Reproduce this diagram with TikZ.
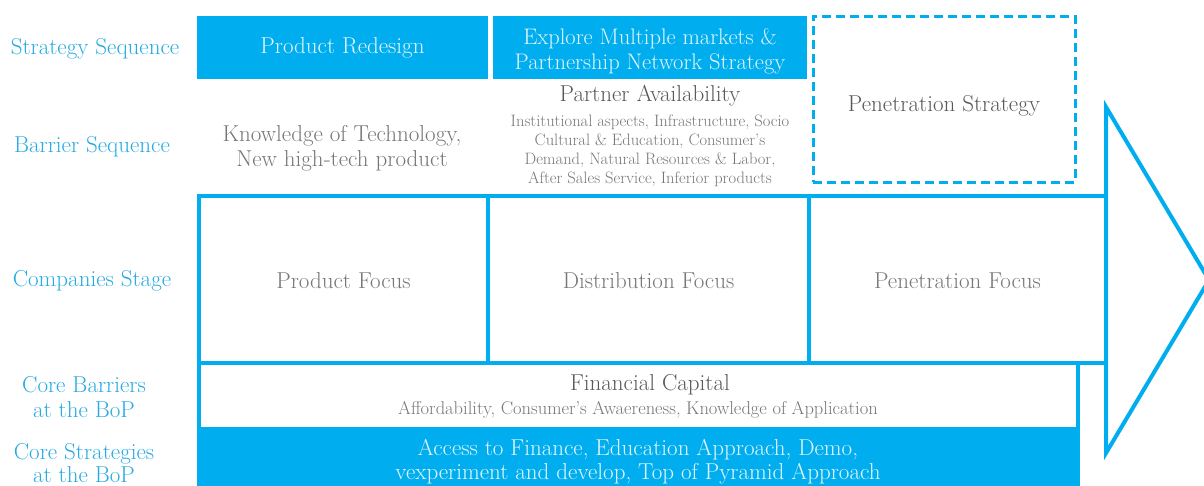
\documentclass[tikz,border=0pt]{standalone}
\begin{document}
\begin{tikzpicture}[x=1pt,y=-1pt,
  font=\fontsize{23}{25}\selectfont,
  lbl/.style={text=labelblue, align=center, inner sep=0pt},
  fillbox/.style={fill=bluefill, draw=none, text=boxtext, align=center, inner sep=0pt},
  plain/.style={text=textgray, align=center, inner sep=0pt},
  heading/.style={text=darkgray, align=center, inner sep=0pt},
  smalltxt/.style={text=textgray, align=center, inner sep=0pt, font=\fontsize{16.5}{19}\selectfont},
  frame/.style={draw=bluefill, line width=4pt},
]
\definecolor{bluefill}{RGB}{0,174,239}
\definecolor{labelblue}{RGB}{38,170,225}
\definecolor{boxtext}{RGB}{228,246,253}
\definecolor{textgray}{RGB}{118,118,118}
\definecolor{darkgray}{RGB}{88,88,88}

\useasboundingbox (0,0) rectangle (1204,485);
\clip (0,0) rectangle (1204,485);

% row labels
\node[lbl] (l1) at (95,49) {Strategy Sequence};
\node[lbl] (l2) at (92,147) {Barrier Sequence};
\node[lbl] (l3) at (92,281) {Companies Stage};
\node[lbl] (l4) at (84,397) {Core Barriers\\at the BoP};
\node[lbl, font=\fontsize{23}{23}\selectfont] (l5) at (84,463) {Core Strategies\\at the BoP};

% strategy sequence
\node[fillbox, minimum width=291pt, minimum height=63pt] (redesign) at (342.5,47.5) {Product Redesign};
\node[fillbox, minimum width=314pt, minimum height=63pt] (explore) at (650,47.5) {};
\node[text=boxtext, align=center, inner sep=0pt, font=\fontsize{22.5}{25}\selectfont] (exploretxt) at (650,51)
  {Explore Multiple markets \&\\Partnership Network Strategy};
\node[draw=bluefill, line width=3pt, dash pattern=on 9pt off 5pt, minimum width=262pt, minimum height=166pt,
  inner sep=0pt] (penstrat) at (944,99) {};
\node[heading] (penstrattxt) at (944,106) {Penetration Strategy};

% barrier sequence
\node[plain] (knowledge) at (342,148.5) {Knowledge of Technology,\\New high-tech product};
\node[heading] (partner) at (650,96) {Partner Availability};
\node[smalltxt] (partnerdet) at (650,151)
  {Institutional aspects, Infrastructure, Socio\\Cultural \& Education, Consumer's\\Demand, Natural Resources \& Labor,\\After Sales Service, Inferior products};

% core barriers / strategies band
\fill[bluefill] (199,427) rectangle (1078,490);
\draw[frame] (199,363) -- (199,490);
\draw[frame] (1078,363) -- (1078,490);
\node[heading] (fincap) at (650,385) {Financial Capital};
\node[smalltxt, font=\fontsize{18.5}{19}\selectfont] (fincapdet) at (638,410)
  {Affordability, Consumer's Awaereness, Knowledge of Application};
\node[fillbox, font=\fontsize{23}{23.5}\selectfont] (access) at (638,461.5)
  {Access to Finance, Education Approach, Demo,\\vexperiment and develop, Top of Pyramid Approach};

% companies stage arrow
\draw[frame, line join=miter] (199,196) rectangle (1106,363);
\draw[frame] (488,196) -- (488,363);
\draw[frame] (809,196) -- (809,363);
\draw[frame, line join=miter] (1106,107) -- (1209,280) -- (1106,453) -- cycle;
\node[plain] (prodfocus) at (343.5,281) {Product Focus};
\node[plain] (distfocus) at (648.5,281) {Distribution Focus};
\node[plain] (penfocus) at (957.5,281) {Penetration Focus};
\end{tikzpicture}
\end{document}
